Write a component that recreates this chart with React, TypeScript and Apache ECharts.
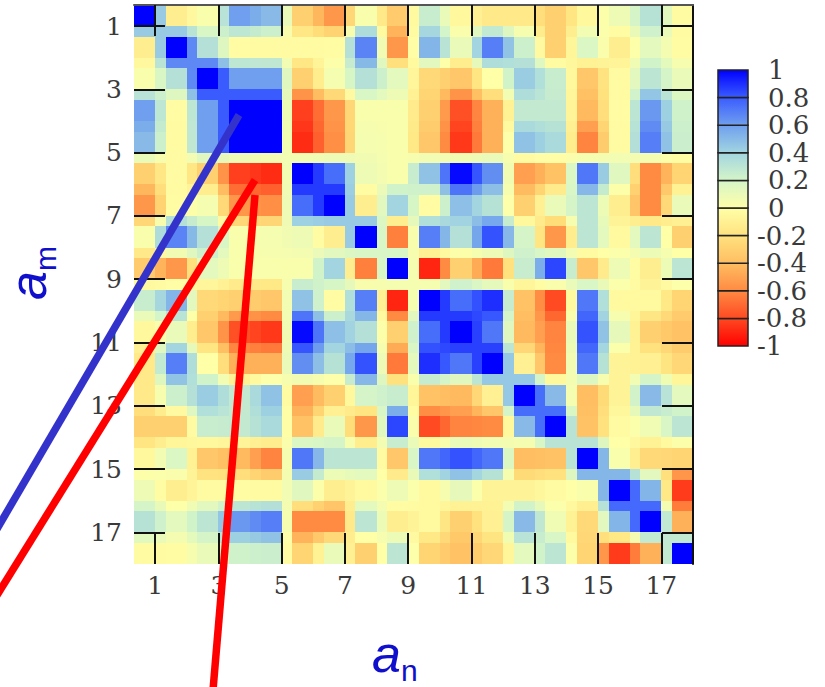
import React, { useEffect, useRef } from "react";
import * as echarts from "echarts";

// Cell values (in percent), one row per parameter.
const row1 = [100, -12, 3, 60, 50, -30, -55, 3, -33, 25, -5, -15, -15, -30, -5, 8, 32, -3];
const row2 = [-12, 100, 33, -2, -3, -3, -2, 68, -55, 52, 10, 70, 23, -30, 17, -12, 13, -2];
const row3 = [3, 33, 100, 60, 60, -30, 5, 33, 13, -25, -35, 0, 43, 25, -35, -3, 30, 10];
const row4 = [60, -2, 60, 100, 100, -83, -55, 3, 3, -30, -78, -45, 27, 27, -42, -2, 62, 22];
const row5 = [50, -3, 60, 100, 100, -88, -58, 5, 3, -35, -85, -45, 47, 37, -62, -3, 70, 24];
const row6 = [-30, -3, -30, -83, -88, 100, 75, 8, 3, 47, 98, 65, -52, -38, 72, 15, -60, -28];
const row7 = [-55, -2, 5, -55, -58, 75, 100, -12, 40, -2, 48, 32, -30, 10, 30, -12, -60, 10];
const row8 = [3, 68, 33, 3, 5, 8, -12, 100, -63, 70, 33, 82, 20, -55, 30, -4, 30, -30];
const row9 = [-33, -55, 13, 3, 3, 3, 40, -63, 100, -90, -30, -65, 25, 85, -35, 8, -12, 30];
const row10 = [25, 52, -25, -30, -35, 47, -2, 70, -90, 100, 75, 90, -38, -80, 72, -4, -4, -28];
const row11 = [-5, 10, -35, -78, -85, 98, 48, 33, -30, 75, 100, 72, -42, -62, 82, 12, -30, -38];
const row12 = [-15, 70, 0, -45, -45, 65, 32, 82, -65, 90, 72, 100, -10, -60, 72, -8, -10, -26];
const row13 = [-15, 23, 43, 27, 47, -52, -30, 20, 25, -38, -42, -10, 100, 50, -40, -8, 50, 13];
const row14 = [-30, -30, 25, 27, 37, -38, 10, -55, 85, -80, -62, -60, 50, 100, -38, -3, 7, 30];
const row15 = [-5, 17, -35, -42, -62, 72, 30, 30, -35, 72, 82, 72, -40, -38, 100, 3, -25, -27];
const row16 = [8, -12, -3, -2, -3, 15, -12, -4, 8, -4, 12, -8, -8, -3, 3, 100, 52, -84];
const row17 = [32, 13, 30, 62, 70, -60, -60, 30, -12, -4, -30, -10, 50, 7, -25, 52, 100, -45];
const row18 = [-3, -2, 10, 22, 24, -28, 10, -30, 30, -28, -38, -26, 13, 30, -27, -84, -45, 100];
const rows = [row1, row2, row3, row4, row5, row6, row7, row8, row9, row10, row11, row12, row13, row14, row15, row16, row17, row18];

const tickValues = [1, 3, 5, 7, 9, 11, 13, 15, 17];
const scaleValues = [-1, -0.8, -0.6, -0.4, -0.2, 0, 0.2, 0.4, 0.6, 0.8, 1];
const scaleColors = ["#ff0000", "#ff4a22", "#ff8a42", "#ffbe62", "#ffe27e", "#ffffa8", "#d5f5c8", "#a2d5e0", "#6f9fee", "#3a5cff", "#0000ff"];
const positiveLabels = [0, 0.2, 0.4, 0.6, 0.8, 1];
const negativeLabels = [-1, -0.8, -0.6, -0.4, -0.2];

const hex = (s: string) => [1, 3, 5].map((i) => parseInt(s.slice(i, i + 2), 16));

function colorOf(v: number) {
  const t = Math.min(9.9999, Math.max(0, (v + 1) / 0.2));
  const i = Math.floor(t);
  const a = hex(scaleColors[i]);
  const b = hex(scaleColors[i + 1]);
  const m = a.map((x, k) => Math.round(x + (b[k] - x) * (t - i)));
  return `rgb(${m[0]},${m[1]},${m[2]})`;
}

const cellData: number[][] = [];
rows.forEach((vals, r) => vals.forEach((v, c) => cellData.push([c + 1, r + 1, v / 100])));

const serifFont = "DejaVu Serif";
const titleBlue = "#0f0fcc";

// Each cell is drawn from its read value. The reference's pale seams between
// cells are a shading effect, so this style blends the neighbours' values for
// the seam colour; they are not extra data points.
function renderCell(_: any, api: any) {
  const c = api.value(0);
  const r = api.value(1);
  const at = (i: number, j: number) => rows[j - 1][i - 1] / 100;
  const px = (x: number, y: number) => api.coord([x, y]).map(Math.round);
  const rect = (xa: number, ya: number, xb: number, yb: number, v: number) => {
    const p = px(xa, ya);
    const q = px(xb, yb);
    return {
      type: "rect",
      shape: { x: p[0], y: p[1], width: q[0] - p[0], height: q[1] - p[1] },
      style: { fill: colorOf(v) },
    };
  };
  const x0 = c - 2 / 3;
  const y0 = r - 2 / 3;
  const x2 = c + 1 / 3;
  const y2 = r + 1 / 3;
  const children = [rect(x0, y0, c, r, api.value(2))];
  if (c < 18) children.push(rect(c, y0, x2, r, (at(c, r) + at(c + 1, r)) / 2));
  if (r < 18) children.push(rect(x0, r, c, y2, (at(c, r) + at(c, r + 1)) / 2));
  if (c < 18 && r < 18) children.push(rect(c, r, x2, y2, (at(c, r) + at(c + 1, r) + at(c, r + 1) + at(c + 1, r + 1)) / 4));
  return { type: "group", children };
}

function renderScale(_: any, api: any) {
  const i = api.value(0);
  const lo = api.coord([0, scaleValues[i]]);
  const hi = api.coord([1, scaleValues[i + 1]]);
  return {
    type: "rect",
    shape: { x: lo[0], y: hi[1], width: hi[0] - lo[0], height: lo[1] - hi[1] },
    style: {
      fill: new echarts.graphic.LinearGradient(0, 0, 0, 1, [
        { offset: 0, color: scaleColors[i + 1] },
        { offset: 1, color: scaleColors[i] },
      ]),
      stroke: "#222",
      lineWidth: 1.5,
    },
  };
}

const tickStyle = { inside: true, length: 31, customValues: tickValues, lineStyle: { color: "#111", width: 2 } };
const labelStyle = { fontFamily: serifFont, fontSize: 25, color: "#3a3a3a" };
const scaleLabelStyle = { fontFamily: serifFont, fontSize: 26, color: "#3a3a3a", align: "left" };
const letterFont = { fontFamily: "Liberation Sans", fontStyle: "italic", fontSize: 52, fill: titleBlue };
const subFont = { fontFamily: "Liberation Sans", fontSize: 30, fill: titleBlue };

export default function App() {
  const ref = useRef<HTMLDivElement>(null);
  useEffect(() => {
    const chart = echarts.init(ref.current!, null, { renderer: "svg" });
    chart.setOption({
      animation: false,
      backgroundColor: "#fff",
      grid: [
        { left: 134, top: 5, width: 559, height: 559 },
        { left: 718, top: 70, width: 30, height: 276 },
      ],
      xAxis: [
        {
          type: "value", gridIndex: 0, position: "bottom", min: 1 / 3, max: 18, z: 5,
          axisLine: { show: false }, splitLine: { show: false }, axisTick: tickStyle,
          axisLabel: { ...labelStyle, margin: 9, customValues: tickValues },
        },
        {
          type: "value", gridIndex: 0, position: "top", min: 1 / 3, max: 18, z: 5,
          axisLine: { show: true, onZero: false, lineStyle: { color: "#555", width: 2 } },
          splitLine: { show: false }, axisTick: tickStyle, axisLabel: { show: false },
        },
        { type: "value", gridIndex: 1, min: 0, max: 1, show: false },
      ],
      yAxis: [
        {
          type: "value", gridIndex: 0, position: "left", inverse: true, min: 1 / 3, max: 18, z: 5,
          axisLine: { show: false }, splitLine: { show: false }, axisTick: tickStyle,
          axisLabel: { ...labelStyle, margin: 12, customValues: tickValues },
        },
        {
          type: "value", gridIndex: 0, position: "right", inverse: true, min: 1 / 3, max: 18, z: 5,
          axisLine: { show: true, onZero: false, lineStyle: { color: "#111", width: 2 } },
          splitLine: { show: false }, axisTick: tickStyle, axisLabel: { show: false },
        },
        {
          type: "value", gridIndex: 1, position: "right", min: -1, max: 1, interval: 0.2,
          axisLine: { show: false }, axisTick: { show: false }, splitLine: { show: false },
          axisLabel: { ...scaleLabelStyle, margin: 20, customValues: positiveLabels },
        },
        {
          type: "value", gridIndex: 1, position: "right", min: -1, max: 1, interval: 0.2,
          axisLine: { show: false }, axisTick: { show: false }, splitLine: { show: false },
          axisLabel: { ...scaleLabelStyle, margin: 9, customValues: negativeLabels },
        },
      ],
      series: [
        {
          type: "custom", xAxisIndex: 0, yAxisIndex: 0, silent: true, z: 2,
          renderItem: renderCell, encode: { x: 0, y: 1 }, data: cellData,
        },
        {
          type: "custom", xAxisIndex: 2, yAxisIndex: 2, silent: true, z: 2,
          renderItem: renderScale, data: scaleColors.slice(1).map((_, i) => [i]),
        },
      ],
      graphic: [
        { type: "line", z: 100, shape: { x1: 239, y1: 115, x2: -6, y2: 534 }, style: { stroke: "#3333cc", lineWidth: 7.5 } },
        { type: "line", z: 100, shape: { x1: 255, y1: 180, x2: -6, y2: 600 }, style: { stroke: "#ff0000", lineWidth: 7.5 } },
        { type: "line", z: 100, shape: { x1: 255, y1: 195, x2: 213, y2: 690 }, style: { stroke: "#ff0000", lineWidth: 7.5 } },
        { type: "text", z: 100, x: 372, y: 628, style: { ...letterFont, text: "a" } },
        { type: "text", z: 100, x: 401, y: 655, style: { ...subFont, text: "n" } },
        { type: "text", z: 100, x: 2, y: 300, rotation: Math.PI / 2, style: { ...letterFont, text: "a" } },
        { type: "text", z: 100, x: 30, y: 271, rotation: Math.PI / 2, style: { ...subFont, text: "m" } },
      ],
    });
    return () => chart.dispose();
  }, []);
  return <div ref={ref} style={{ position: "fixed", left: 0, top: 0, width: 825, height: 687 }} />;
}
